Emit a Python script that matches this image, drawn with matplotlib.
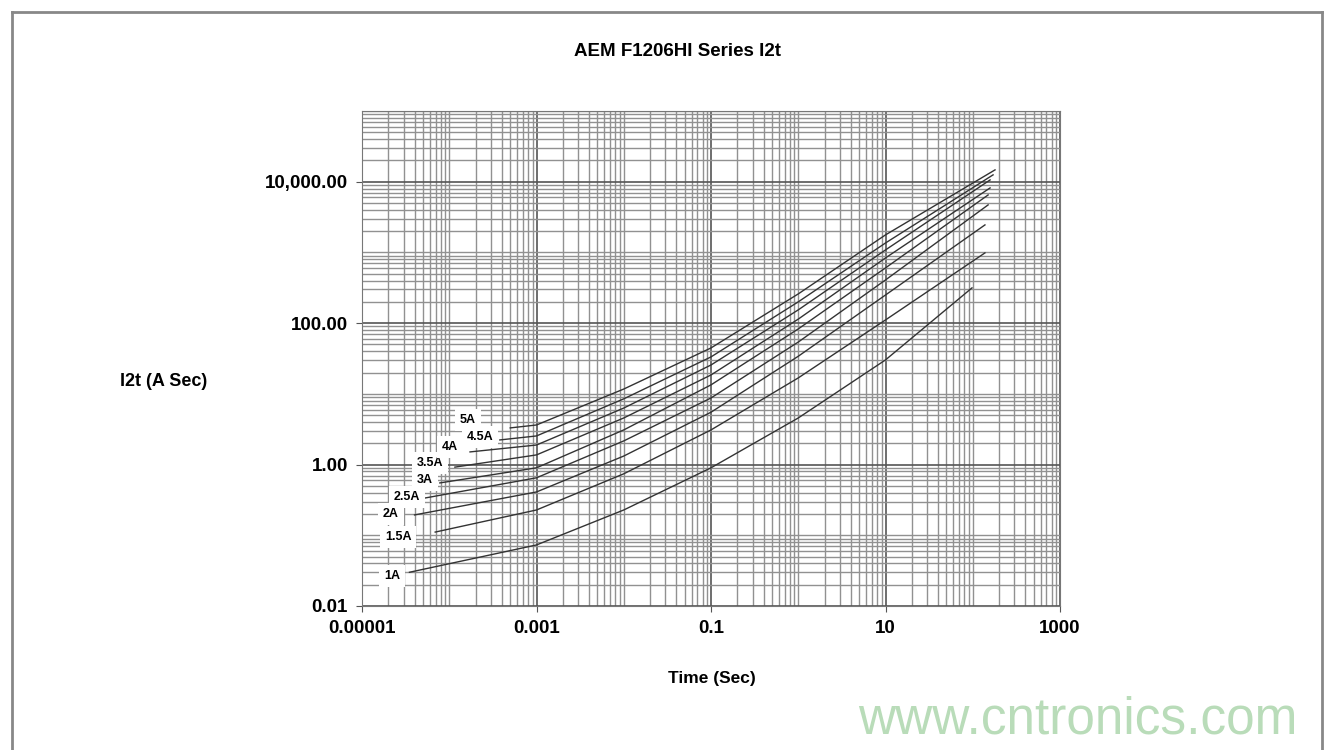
import matplotlib
matplotlib.use('Agg')
import matplotlib.pyplot as plt
from matplotlib.ticker import FixedLocator, LogLocator, NullFormatter
from matplotlib.lines import Line2D

plt.rcParams['font.family'] = ['Liberation Sans', 'DejaVu Sans']

# I2t curves (time in s, I2t in A^2 s)
t_1a = [3.5e-5, 0.001, 0.01, 0.1, 1, 10, 98]
i2t_1a = [0.030, 0.073, 0.228, 0.90, 4.56, 30.2, 315]
t_15a = [6.9e-5, 0.001, 0.01, 0.1, 1, 10, 138]
i2t_15a = [0.111, 0.228, 0.74, 3.09, 16.8, 111, 985]
t_2a = [4.0e-5, 0.001, 0.01, 0.1, 1, 10, 138]
i2t_2a = [0.194, 0.41, 1.32, 5.5, 34, 250, 2450]
t_25a = [5.3e-5, 0.001, 0.01, 0.1, 1, 10, 150]
i2t_25a = [0.337, 0.65, 2.16, 8.75, 54, 408, 4700]
t_3a = [7.8e-5, 0.001, 0.01, 0.1, 1, 10, 150]
i2t_3a = [0.55, 0.90, 3.09, 13.4, 82.8, 604, 6500]
t_35a = [1.16e-4, 0.001, 0.01, 0.1, 1, 10, 158]
i2t_35a = [0.92, 1.37, 4.56, 18.5, 114, 836, 8170]
t_4a = [1.73e-4, 0.001, 0.01, 0.1, 1, 10, 158]
i2t_4a = [1.51, 1.89, 6.3, 25.6, 154, 1085, 10600]
t_45a = [3.8e-4, 0.001, 0.01, 0.1, 1, 10, 171]
i2t_45a = [2.23, 2.54, 8.5, 33.3, 200, 1360, 12500]
t_5a = [5.0e-4, 0.001, 0.01, 0.1, 1, 10, 180]
i2t_5a = [3.3, 3.63, 11.7, 44.6, 259, 1770, 14700]

names = ['1A', '1.5A', '2A', '2.5A', '3A', '3.5A', '4A', '4.5A', '5A']
times = [t_1a, t_15a, t_2a, t_25a, t_3a, t_35a, t_4a, t_45a, t_5a]
values = [i2t_1a, i2t_15a, i2t_2a, i2t_25a, i2t_3a, i2t_35a, i2t_4a, i2t_45a, i2t_5a]
label_x = [2.2e-5, 2.6e-5, 2.15e-5, 3.3e-5, 5.3e-5, 6.0e-5, 1.02e-4, 2.25e-4, 1.64e-4]
label_y = [0.0265, 0.095, 0.2, 0.348, 0.605, 1.05, 1.77, 2.45, 4.3]

x_ticks = [1e-5, 1e-3, 1e-1, 10, 1000]
x_ticklabels = ['0.00001', '0.001', '0.1', '10', '1000']
y_ticks = [0.01, 1, 100, 10000]
y_ticklabels = ['0.01', '1.00', '100.00', '10,000.00']

fig = plt.figure(figsize=(13.33, 7.5), dpi=100)
ax = fig.add_axes([362/1333, 1 - 606/750, 698/1333, 495/750])

for t, v in zip(times, values):
    ax.plot(t, v, color='#333333', lw=1.0, zorder=3)

for name, lx, ly in zip(names, label_x, label_y):
    ax.text(lx, ly, name, fontsize=9, fontweight='bold', ha='center', va='center',
            zorder=4, bbox=dict(facecolor='white', edgecolor='none', pad=3.5))

ax.set_xscale('log')
ax.set_yscale('log')
ax.set_xlim(1e-5, 1000)
ax.set_ylim(0.01, 1e5)

ax.xaxis.set_major_locator(FixedLocator(x_ticks))
ax.set_xticklabels(x_ticklabels)
ax.yaxis.set_major_locator(FixedLocator(y_ticks))
ax.set_yticklabels(y_ticklabels)
for axis in (ax.xaxis, ax.yaxis):
    axis.set_minor_locator(LogLocator(base=10, subs=range(1, 10), numticks=30))
    axis.set_minor_formatter(NullFormatter())

ax.grid(which='major', color='#555555', lw=1.2)
ax.grid(which='minor', color='#919191', lw=1.0)
ax.set_axisbelow(True)
ax.tick_params(which='minor', length=0)
ax.tick_params(which='major', length=4, color='#555555', labelsize=13.5, pad=6)
for lab in ax.get_xticklabels() + ax.get_yticklabels():
    lab.set_fontweight('bold')
for s in ax.spines.values():
    s.set_color('#777777')

fig.text(677/1333, 1 - 52/750, 'AEM F1206HI Series I2t', fontsize=13.5, fontweight='bold',
         ha='center', va='center')
fig.text(164/1333, 1 - 381/750, 'I2t (A Sec)', fontsize=13, fontweight='bold',
         ha='center', va='center')
fig.text(712/1333, 1 - 678/750, 'Time (Sec)', fontsize=12.5, fontweight='bold',
         ha='center', va='center')

# chart frame
fig.add_artist(Line2D([12/1333, 1322/1333], [1 - 12/750, 1 - 12/750], color='#888888', lw=2))
fig.add_artist(Line2D([12/1333, 12/1333], [1 - 12/750, 0], color='#888888', lw=2))
fig.add_artist(Line2D([1322/1333, 1322/1333], [1 - 12/750, 0], color='#888888', lw=2))

fig.text(1078/1333, 1 - 720/750, 'www.cntronics.com', fontsize=37, color='#b9dcb9',
         ha='center', va='center', bbox=dict(facecolor='white', edgecolor='none', pad=4))

fig.savefig('out.png', dpi=100)
